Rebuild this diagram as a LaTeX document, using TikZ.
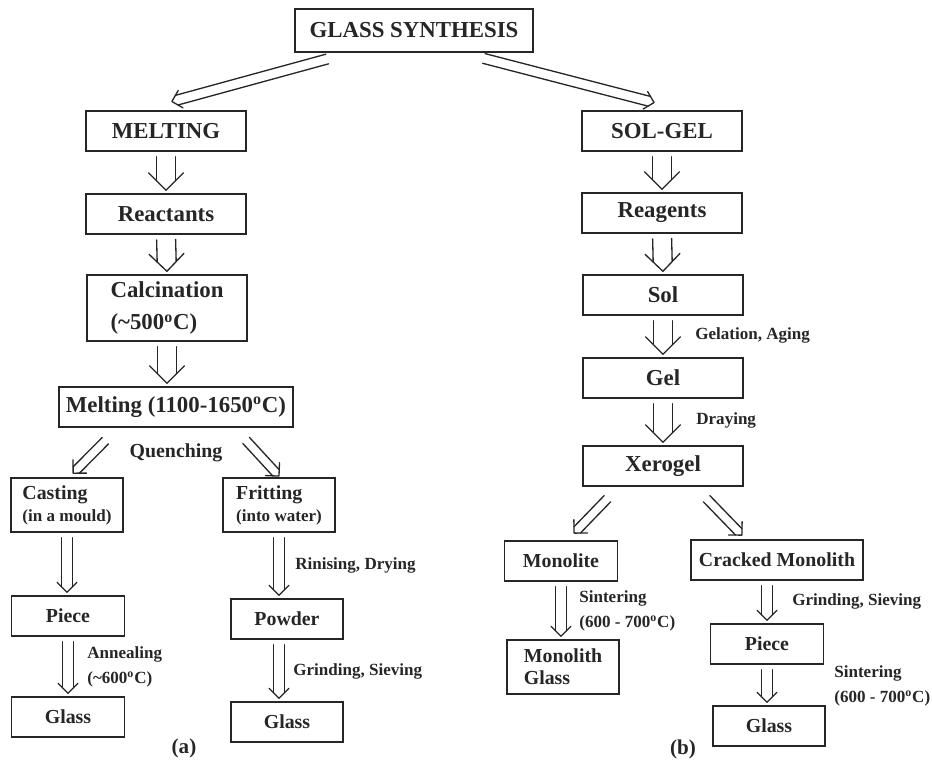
\documentclass[tikz,border=0pt]{standalone}
\usepackage{fontspec}
\setmainfont{Liberation Serif}
\usetikzlibrary{calc}

\definecolor{ink}{HTML}{262626}

\newcommand{\boxfont}{\fontsize{13}{12.6}\selectfont\bfseries}
\newcommand{\lowfont}{\fontsize{11.3}{12.6}\selectfont\bfseries}
\newcommand{\notefont}{\fontsize{9.7}{14}\selectfont\bfseries}

%% open double arrow: #1 half gap, #2 half head, #3 start, #4 tip
\newcommand{\dblarrow}[4]{%
  \coordinate (d0) at (#3);
  \coordinate (d1) at (#4);
  \coordinate (ds) at ($(d0)!0.1cm!(d1)$);
  \coordinate (dt) at ($(d1)!0.06cm!(d0)$);
  \coordinate (dc) at ($(dt)!#1!(ds)$);
  \coordinate (dh) at ($(dt)!#2!(ds)$);
  \draw[arw] ($(ds)!#1!90:(dt)$) -- ($(dc)!#1!90:(dt)$);
  \draw[arw] ($(ds)!#1!-90:(dt)$) -- ($(dc)!#1!-90:(dt)$);
  \draw[arw] ($(dh)!#2!90:(dt)$) -- (dt) -- ($(dh)!#2!-90:(dt)$);
}

\begin{document}
\begin{tikzpicture}[
  box/.style={draw=ink, line width=0.8pt, text=ink, font=\boxfont, align=left,
    minimum height=0.8cm, inner sep=2pt},
  lowbox/.style={box, font=\lowfont},
  note/.style={text=ink, font=\notefont, align=left, anchor=west, inner sep=0pt},
  arw/.style={draw=ink, line width=0.75pt, line cap=round, line join=round}]

\useasboundingbox (0,0) rectangle (18.64,-15.24);

%% top
\node[box, minimum width=4.76cm, minimum height=0.86cm] (synth) at (8.28,-0.61) {GLASS SYNTHESIS};

%% melting route
\node[box, minimum width=3.2cm] (melting) at (3.32,-2.62) {MELTING};
\node[box, minimum width=3.2cm] (reactants) at (3.32,-4.28) {Reactants};
\node[box, minimum width=3.2cm, minimum height=1.32cm] (calcination) at (3.34,-6.16) {Calcination\\[6pt](\textasciitilde500\textsuperscript{o}C)};
\node[box, minimum width=4.68cm] (meltrange) at (3.52,-8.14) {Melting (1100-1650\textsuperscript{o}C)};
\node[lowbox, minimum width=2.24cm, minimum height=1.08cm] (casting) at (1.34,-10.1) {Casting\\{\notefont (in a mould)}};
\node[lowbox, minimum width=2.24cm, minimum height=1.08cm] (fritting) at (5.58,-10.1) {Fritting\\{\notefont (into water)}};
\node[lowbox, minimum width=2.26cm] (piece) at (1.36,-12.32) {Piece};
\node[lowbox, minimum width=2.26cm] (glassa) at (1.36,-14.34) {Glass};
\node[lowbox, minimum width=2.24cm] (powder) at (5.74,-12.38) {Powder};
\node[lowbox, minimum width=2.24cm] (glassb) at (5.74,-14.44) {Glass};

%% sol-gel route
\node[box, minimum width=3.2cm] (solgel) at (13.24,-2.62) {SOL-GEL};
\node[box, minimum width=3.2cm] (reagents) at (13.24,-4.26) {Reagents};
\node[box, minimum width=3.2cm] (sol) at (13.26,-5.9) {Sol};
\node[box, minimum width=3.2cm] (gel) at (13.26,-7.56) {Gel};
\node[box, minimum width=3.2cm] (xerogel) at (13.26,-9.32) {Xerogel};
\node[lowbox, minimum width=2.26cm] (monolite) at (11.22,-11.22) {Monolite};
\node[lowbox, minimum width=3.44cm] (cracked) at (15.54,-11.2) {Cracked Monolith};
\node[lowbox, minimum width=2.24cm, minimum height=1.08cm] (monoglass) at (11.26,-13.34) {Monolith\\Glass};
\node[lowbox, minimum width=2.26cm] (pieceb) at (15.34,-12.88) {Piece};
\node[lowbox, minimum width=2.24cm] (glassc) at (15.38,-14.52) {Glass};

%% step labels
\node[text=ink, font=\fontsize{11.3}{13}\selectfont\bfseries] (quench) at (3.52,-9.06) {Quenching};
\node[note] (rinsing) at (5.9,-11.3) {Rinising, Drying};
\node[note] (annealing) at (1.74,-13.34) {Annealing\\(\textasciitilde600\textsuperscript{o}C)};
\node[note] (grindinga) at (5.86,-13.42) {Grinding, Sieving};
\node[note] (gelation) at (13.9,-6.7) {Gelation, Aging};
\node[note] (drying) at (13.92,-8.4) {Draying};
\node[note] (sinteringa) at (11.58,-12.22) {Sintering\\(600 - 700\textsuperscript{o}C)};
\node[note] (grindingb) at (15.84,-12.02) {Grinding, Sieving};
\node[note] (sinteringb) at (16.68,-13.72) {Sintering\\(600 - 700\textsuperscript{o}C)};

%% captions
\node[text=ink, font=\fontsize{12}{14}\selectfont\bfseries] (capa) at (3.68,-14.96) {(a)};
\node[text=ink, font=\fontsize{12}{14}\selectfont\bfseries] (capb) at (13.66,-14.98) {(b)};

%% arrows from the top
\dblarrow{0.1cm}{0.18cm}{$(synth.south)+(-1.64,-0.1)$}{$(melting.north)+(0.06,0.16)$}
\dblarrow{0.1cm}{0.18cm}{$(synth.south)+(1.3,-0.09)$}{$(solgel.north)+(-0.1,0.14)$}

%% melting arrows
\dblarrow{0.19cm}{0.35cm}{melting.south}{reactants.north}
\dblarrow{0.19cm}{0.35cm}{reactants.south}{calcination.north}
\dblarrow{0.19cm}{0.35cm}{calcination.south}{calcination.south |- meltrange.north}
\dblarrow{0.09cm}{0.19cm}{$(meltrange.south west)+(1.01,-0.19)$}{$(casting.north)+(0.08,0.04)$}
\dblarrow{0.09cm}{0.19cm}{$(meltrange.south east)+(-1.02,-0.18)$}{$(fritting.north)+(0.04,-0.02)$}
\dblarrow{0.11cm}{0.2cm}{casting.south}{casting.south |- piece.north}
\dblarrow{0.11cm}{0.2cm}{piece.south}{glassa.north}
\dblarrow{0.11cm}{0.2cm}{fritting.south}{fritting.south |- powder.north}
\dblarrow{0.11cm}{0.2cm}{powder.south -| fritting.south}{glassb.north -| fritting.south}

%% sol-gel arrows
\dblarrow{0.19cm}{0.35cm}{solgel.south}{reagents.north}
\dblarrow{0.19cm}{0.35cm}{reagents.south}{sol.north}
\dblarrow{0.19cm}{0.35cm}{sol.south}{gel.north}
\dblarrow{0.19cm}{0.35cm}{gel.south}{xerogel.north}
\dblarrow{0.09cm}{0.19cm}{$(xerogel.south west)+(0.57,-0.17)$}{$(monolite.north)+(0.22,0.1)$}
\dblarrow{0.09cm}{0.19cm}{$(xerogel.south east)+(-0.81,-0.17)$}{$(cracked.north)+(-0.66,0.04)$}
\dblarrow{0.11cm}{0.2cm}{monolite.south}{monolite.south |- monoglass.north}
\dblarrow{0.11cm}{0.2cm}{pieceb.north |- cracked.south}{pieceb.north}
\dblarrow{0.11cm}{0.2cm}{pieceb.south}{pieceb.south |- glassc.north}

\end{tikzpicture}
\end{document}
